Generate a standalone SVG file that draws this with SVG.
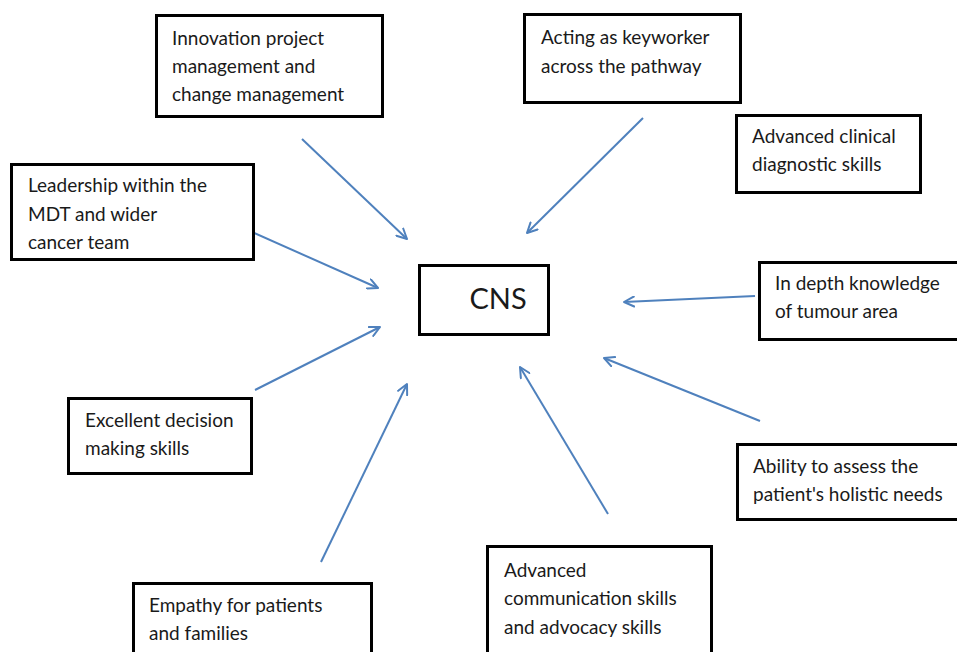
<svg xmlns="http://www.w3.org/2000/svg" width="957" height="652" viewBox="0 0 957 652">
<defs>
<marker id="ah" viewBox="0 0 12 12" refX="11" refY="6" markerWidth="12" markerHeight="12" markerUnits="userSpaceOnUse" orient="auto">
<path d="M1,1 L11,6 L1,11" fill="none" stroke="#4f81bd" stroke-width="2" stroke-linecap="round" stroke-linejoin="round"/>
</marker>
</defs>
<style>
.box{fill:#fff;stroke:#000;stroke-width:3}
.t{font-family:Lato,"Open Sans",sans-serif;font-size:19px;fill:#1a1a1a}
.c{stroke:#4f81bd;stroke-width:2;fill:none;marker-end:url(#ah)}
</style>
<rect width="957" height="652" fill="#fff"/>
<g id="connectors">
<line class="c" x1="302" y1="139" x2="407" y2="239"/>
<line class="c" x1="643" y1="118" x2="527" y2="233"/>
<line class="c" x1="252" y1="232" x2="378" y2="288"/>
<line class="c" x1="255" y1="390" x2="380" y2="327"/>
<line class="c" x1="321" y1="562" x2="407" y2="384"/>
<line class="c" x1="608" y1="514" x2="520" y2="367"/>
<line class="c" x1="760" y1="421" x2="604" y2="358"/>
<line class="c" x1="755" y1="296" x2="624" y2="302"/>
</g>
<g id="cns">
<rect class="box" x="419.5" y="265.5" width="129" height="69"/>
<text x="498" y="309" text-anchor="middle" style="font-family:Lato,'Open Sans',sans-serif;font-size:29px;fill:#1a1a1a">CNS</text>
</g>
<g id="innovation">
<rect class="box" x="156.5" y="15.5" width="226" height="101"/>
<text class="t" x="172" y="45">Innovation project</text>
<text class="t" x="172" y="73">management and</text>
<text class="t" x="172" y="101">change management</text>
</g>
<g id="keyworker">
<rect class="box" x="524.5" y="14.5" width="216" height="88"/>
<text class="t" x="541" y="44">Acting as keyworker</text>
<text class="t" x="541" y="73">across the pathway</text>
</g>
<g id="diagnostic">
<rect class="box" x="736.5" y="115.5" width="184" height="77"/>
<text class="t" x="752" y="143">Advanced clinical</text>
<text class="t" x="752" y="171">diagnostic skills</text>
</g>
<g id="leadership">
<rect class="box" x="11.5" y="164.5" width="242" height="95"/>
<text class="t" x="28" y="192">Leadership within the</text>
<text class="t" x="28" y="221">MDT and wider</text>
<text class="t" x="28" y="249">cancer team</text>
</g>
<g id="knowledge">
<rect class="box" x="759.5" y="262.5" width="210" height="77"/>
<text class="t" x="775" y="290">In depth knowledge</text>
<text class="t" x="775" y="318">of tumour area</text>
</g>
<g id="decision">
<rect class="box" x="68.5" y="398.5" width="183" height="75"/>
<text class="t" x="85" y="427">Excellent decision</text>
<text class="t" x="85" y="455">making skills</text>
</g>
<g id="holistic">
<rect class="box" x="737.5" y="444.5" width="230" height="75"/>
<text class="t" x="753" y="473">Ability to assess the</text>
<text class="t" x="753" y="501">patient's holistic needs</text>
</g>
<g id="communication">
<rect class="box" x="487.5" y="546.5" width="224" height="120"/>
<text class="t" x="504" y="577">Advanced</text>
<text class="t" x="504" y="605">communication skills</text>
<text class="t" x="504" y="634">and advocacy skills</text>
</g>
<g id="empathy">
<rect class="box" x="133.5" y="583.5" width="238" height="90"/>
<text class="t" x="149" y="612">Empathy for patients</text>
<text class="t" x="149" y="640">and families</text>
</g>
</svg>
